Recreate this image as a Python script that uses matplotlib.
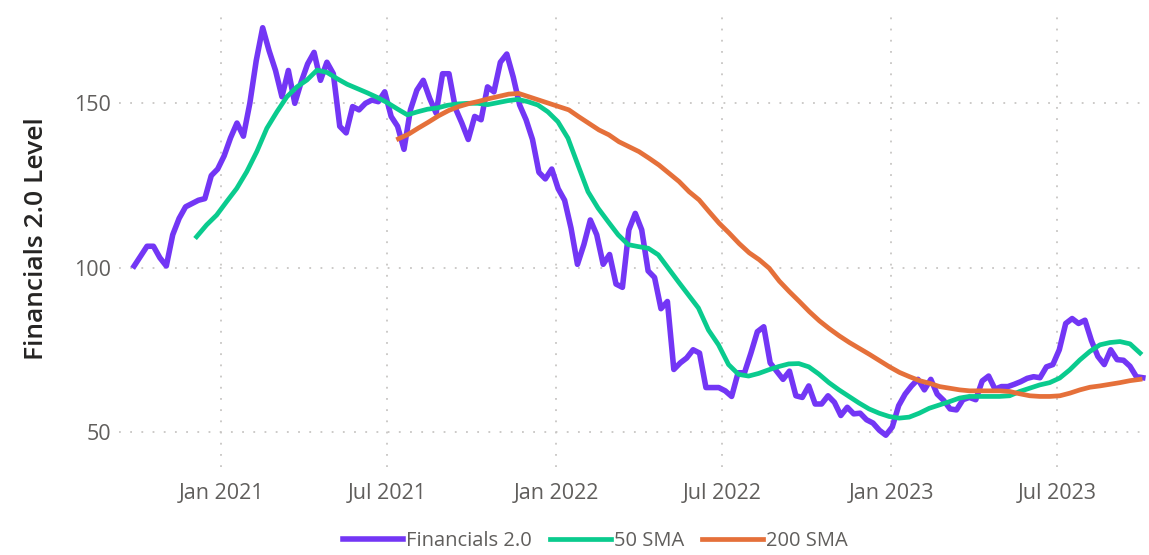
import numpy as np
import pandas as pd
import matplotlib
matplotlib.use('Agg')
import matplotlib.pyplot as plt

# Data
# Weekly closes of the index, starting 2020-09-28
INDEX_START = '2020-09-28'
index_values = [
    100.5, 103.5, 106.5, 106.5, 103, 100.5, 110, 115, 118.5, 119.5,
    120.5, 121, 128, 130, 134, 139.5, 144, 140, 150, 163,
    173, 166, 160, 152, 160, 150, 156.5, 162, 165.5, 157,
    162.5, 159, 143, 141, 149, 148, 150, 151, 150.5, 153.5,
    146, 143, 136, 148, 154, 157, 151.5, 147, 159, 159,
    148.5, 144, 139, 146, 145, 155, 153.5, 162.5, 165, 158,
    149.5, 145, 139, 129, 127, 130, 124, 120.5, 112, 101,
    107, 114.5, 110, 101, 104, 95, 94, 111.5, 116.5, 111.5,
    99, 97, 87.5, 89.7, 69, 71, 72.5, 75, 74, 63.5,
    63.5, 63.5, 62.5, 60.8, 68, 68, 74, 80.5, 82, 71,
    68.5, 66, 68.5, 61, 60.5, 64, 58.5, 58.5, 61, 59,
    55, 57.5, 55.5, 55.7, 53.7, 52.7, 50.5, 49, 51.5, 58,
    61.5, 64, 66, 62.8, 66, 61.5, 59.6, 57, 56.7, 59.8,
    60.5, 59.8, 65.5, 67, 63, 63.8, 63.8, 64.5, 65.3, 66.3,
    66.8, 66.5, 69.8, 70.5, 75, 83, 84.5, 83, 84, 77.8,
    73, 70.5, 75, 72, 71.8, 70, 66.8, 66.5,
]

# 50-day moving average, evenly spaced between these dates
SMA50_START, SMA50_END = '2020-12-05', '2023-09-29'
sma50_values = [
    109.4, 113, 116, 120.1, 124.1, 129.2, 135.3, 142.4, 147.4, 152,
    155, 157.1, 160.1, 159.4, 157.5, 155.8, 154.5, 153.2, 151.8, 150.2,
    148.3, 146.5, 147.4, 148.2, 148.6, 149.4, 149.8, 150, 150, 149.6,
    150.2, 150.8, 151.2, 150.5, 149.5, 147.4, 144.4, 139.4, 131.2, 123.1,
    118.1, 114, 110, 107, 106.4, 105.9, 103.9, 99.8, 95.7, 91.7,
    87.7, 81, 76.5, 70.5, 67.5, 67, 67.8, 68.9, 69.9, 70.7,
    70.8, 69.8, 67.6, 65, 62.8, 60.8, 58.8, 57, 55.7, 54.7,
    54.2, 54.5, 55.7, 57.2, 58.2, 59.2, 60.3, 60.8, 60.8, 60.8,
    60.8, 61, 62.3, 63.3, 64.3, 65, 66.4, 68.9, 71.9, 74.5,
    76.5, 77.2, 77.5, 76.8, 74,
]

# 200-day moving average, evenly spaced between these dates
SMA200_START, SMA200_END = '2021-07-13', '2023-09-29'
sma200_values = [
    139.2, 140.6, 142.5, 144.3, 146.2, 147.8, 149, 149.9, 150.6, 151.4,
    152.1, 152.8, 153, 152, 151, 150, 149, 148, 145.9, 143.9,
    141.9, 140.4, 138.3, 136.8, 135.3, 133.3, 131.2, 128.7, 126.2, 123.1,
    120.6, 117, 113.5, 110.5, 107.3, 104.5, 102.4, 99.8, 95.9, 92.7,
    89.7, 86.6, 83.8, 81.4, 79.2, 77.2, 75.4, 73.6, 71.7, 69.8,
    68.1, 66.8, 65.6, 64.8, 63.8, 63.3, 62.8, 62.5, 62.5, 62.5,
    62.5, 62.3, 61.6, 61, 60.8, 60.8, 61, 61.8, 62.8, 63.6,
    64, 64.5, 65, 65.6, 66,
]

y_ticks = [50, 100, 150]
x_ticks = ['2021-01-01', '2021-07-01', '2022-01-01', '2022-07-01', '2023-01-01', '2023-07-01']
x_tick_labels = ['Jan 2021', 'Jul 2021', 'Jan 2022', 'Jul 2022', 'Jan 2023', 'Jul 2023']

# Colours
PURPLE = '#7336F5'
GREEN = '#0ACB8E'
ORANGE = '#E5703A'
GRID = '#C8C6C4'
TEXT = '#605E5C'

plt.rcParams['font.family'] = ['Open Sans', 'DejaVu Sans']

index_dates = pd.date_range(INDEX_START, periods=len(index_values), freq='7D')
sma50_dates = pd.date_range(SMA50_START, SMA50_END, periods=len(sma50_values))
sma200_dates = pd.date_range(SMA200_START, SMA200_END, periods=len(sma200_values))

fig = plt.figure(figsize=(11.49, 5.55), dpi=100)
ax = fig.add_axes([0.104, 0.159, 0.893, 0.823])

ax.plot(index_dates, index_values, color=PURPLE, linewidth=4.0, solid_joinstyle='round',
        label='Financials 2.0', zorder=3)
ax.plot(sma50_dates, sma50_values, color=GREEN, linewidth=3.4, label='50 SMA', zorder=4)
ax.plot(sma200_dates, sma200_values, color=ORANGE, linewidth=3.4, label='200 SMA', zorder=5)

ax.set_xlim(pd.Timestamp('2020-09-12'), pd.Timestamp('2023-10-05'))
ax.set_ylim(39.4, 178.4)
ax.set_yticks(y_ticks)
ax.set_xticks(pd.to_datetime(x_ticks))
ax.set_xticklabels(x_tick_labels)

ax.grid(True, color=GRID, linestyle=(0, (1, 5.2)), linewidth=1.3)
ax.set_axisbelow(True)
for s in ax.spines.values():
    s.set_visible(False)
ax.tick_params(length=0, labelsize=15.5, labelcolor=TEXT, pad=12)
ax.tick_params(axis='y', pad=6)

ax.set_ylabel('Financials 2.0 Level', fontsize=19, color='#252423', fontweight='semibold', labelpad=18)

fig.legend(loc='lower center', bbox_to_anchor=(0.518, -0.025), ncol=3, frameon=False,
           fontsize=14.5, labelcolor=TEXT, handlelength=3.0, handletextpad=0.15,
           columnspacing=0.9)

plt.savefig('out.png', dpi=100)
plt.close()
